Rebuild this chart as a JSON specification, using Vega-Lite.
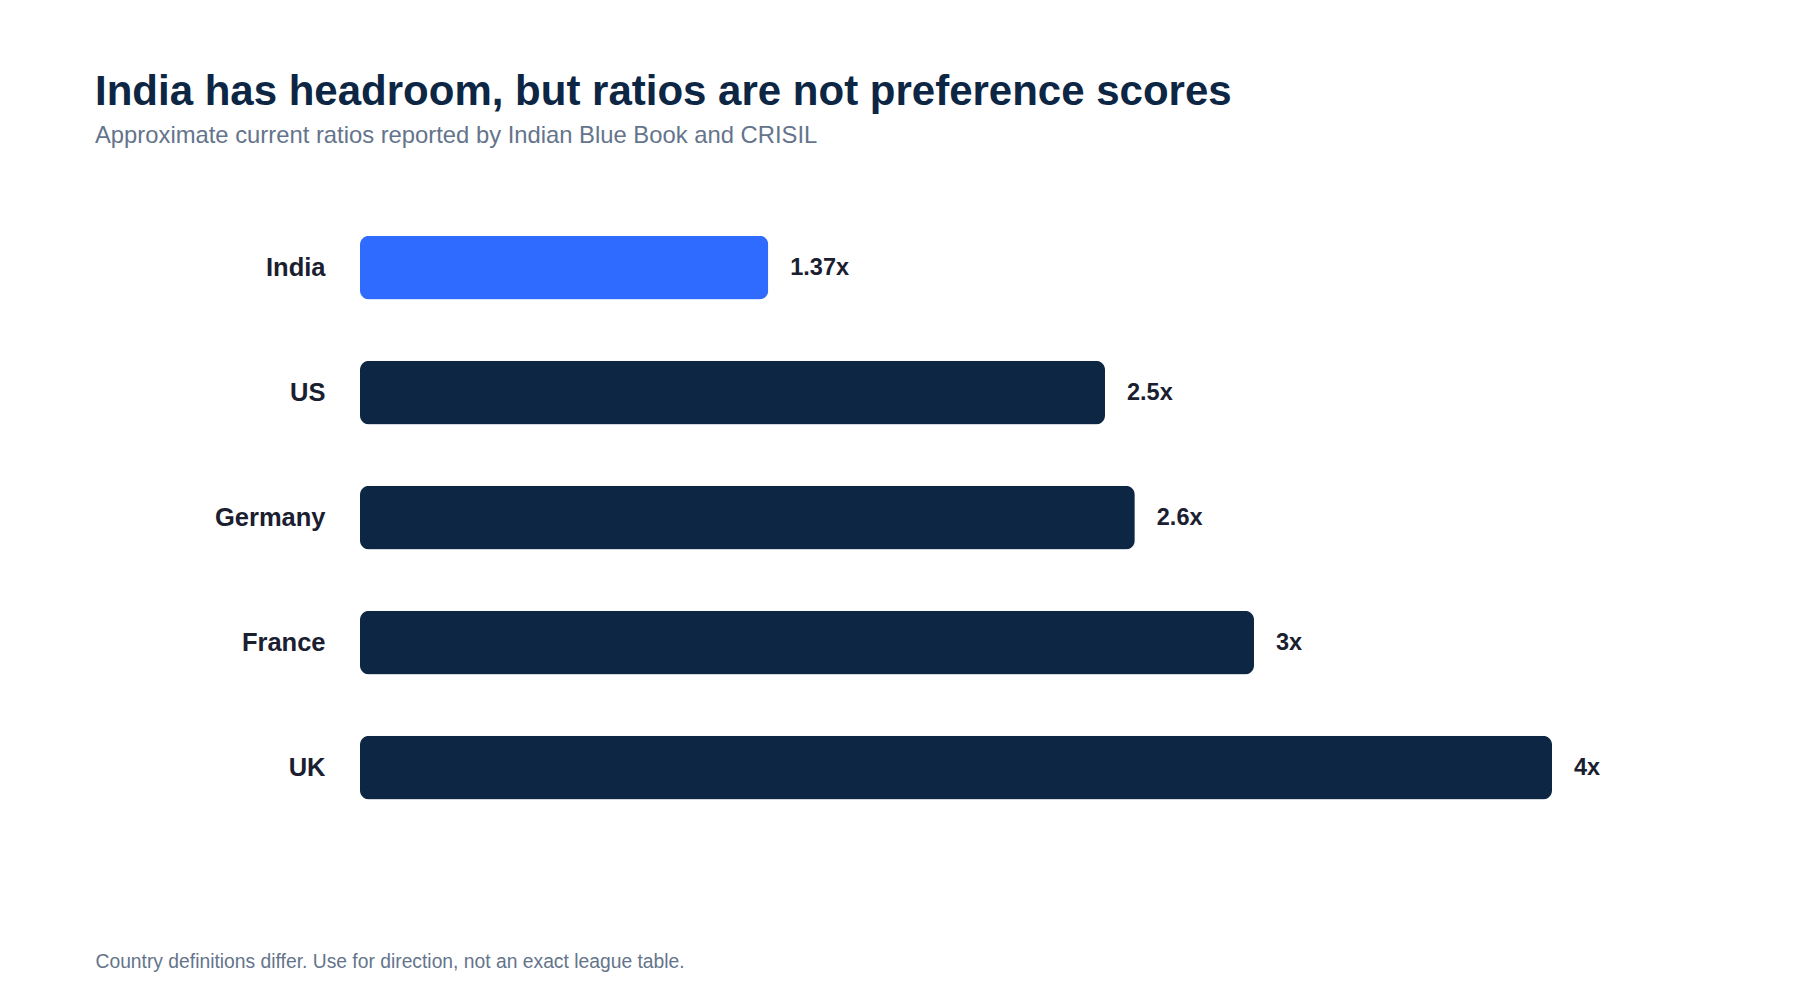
{
  "$schema": "https://vega.github.io/schema/vega-lite/v6.json",
  "autosize": {"type": "none"},
  "width": 1192,
  "height": 625,
  "padding": {"left": 360, "top": 205, "right": 248, "bottom": 170},
  "background": "#ffffff",
  "config": {
    "view": {"stroke": null},
    "font": "Liberation Sans"
  },
  "title": {
    "text": "India has headroom, but ratios are not preference scores",
    "subtitle": "Approximate current ratios reported by Indian Blue Book and CRISIL",
    "anchor": "start",
    "frame": "group",
    "dx": -265,
    "offset": 56,
    "font": "Liberation Sans",
    "fontSize": 42,
    "fontWeight": "bold",
    "color": "#0d2644",
    "subtitleFont": "Liberation Sans",
    "subtitleFontSize": 23.8,
    "subtitleColor": "#64748b",
    "subtitlePadding": 10
  },
  "data": {
    "values": [
      {"country": "India", "ratio": 1.37, "label": "1.37x", "highlight": "yes"},
      {"country": "US", "ratio": 2.5, "label": "2.5x", "highlight": "no"},
      {"country": "Germany", "ratio": 2.6, "label": "2.6x", "highlight": "no"},
      {"country": "France", "ratio": 3, "label": "3x", "highlight": "no"},
      {"country": "UK", "ratio": 4, "label": "4x", "highlight": "no"}
    ]
  },
  "encoding": {
    "y": {
      "field": "country",
      "type": "nominal",
      "sort": null,
      "scale": {"paddingInner": 0.49, "paddingOuter": 0.245},
      "axis": {
        "title": null,
        "domain": false,
        "ticks": false,
        "labelPadding": 35,
        "labelFont": "Liberation Sans",
        "labelFontSize": 25.5,
        "labelFontWeight": "bold",
        "labelColor": "#1a2030"
      }
    },
    "x": {
      "field": "ratio",
      "type": "quantitative",
      "scale": {"domain": [0, 4], "nice": false},
      "axis": {
        "title": "Country definitions differ. Use for direction, not an exact league table.",
        "labels": false,
        "ticks": false,
        "domain": false,
        "grid": false,
        "titleFont": "Liberation Sans",
        "titleFontSize": 19.3,
        "titleFontWeight": "normal",
        "titleColor": "#64748b",
        "titleAnchor": "start",
        "titleAlign": "left",
        "titleBaseline": "alphabetic",
        "titleX": -265,
        "titleY": 137
      }
    }
  },
  "layer": [
    {
      "mark": {"type": "bar", "cornerRadius": 9},
      "encoding": {
        "color": {
          "field": "highlight",
          "type": "nominal",
          "scale": {"domain": ["yes", "no"], "range": ["#2f6bff", "#0d2644"]},
          "legend": null
        }
      }
    },
    {
      "mark": {
        "type": "text",
        "align": "left",
        "baseline": "middle",
        "dx": 22,
        "font": "Liberation Sans",
        "fontSize": 23.5,
        "fontWeight": "bold",
        "color": "#1a2030"
      },
      "encoding": {
        "text": {"field": "label", "type": "nominal"}
      }
    }
  ]
}
